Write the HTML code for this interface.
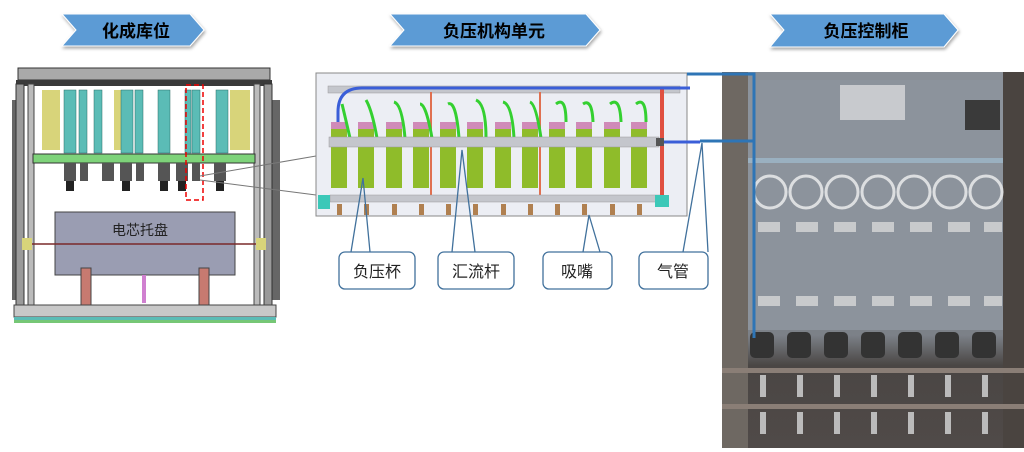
<!DOCTYPE html>
<html><head><meta charset="utf-8"><style>
html,body{margin:0;padding:0;background:#fff;}
svg{display:block;}
text{font-family:"Liberation Sans","Noto Sans CJK SC",sans-serif;}
</style></head><body>
<svg width="1024" height="452" viewBox="0 0 1024 452" xmlns="http://www.w3.org/2000/svg">
<defs>
<filter id="sh" x="-10%" y="-20%" width="130%" height="160%"><feDropShadow dx="1" dy="2" stdDeviation="1.5" flood-color="#000" flood-opacity="0.35"/></filter>
<linearGradient id="ph" x1="0" y1="0" x2="0" y2="1"><stop offset="0" stop-color="#8a9098"/><stop offset="0.7" stop-color="#7c8188"/><stop offset="0.78" stop-color="#4a4644"/><stop offset="1" stop-color="#504a48"/></linearGradient>
</defs>
<rect width="1024" height="452" fill="#fff"/>

<g filter="url(#sh)" stroke="#fff" stroke-width="1">
<polygon points="62,14 190,14 204,30 190,46 62,46 76,30" fill="#5b9bd5"/>
<polygon points="390,14 586,14 600,30 586,46 390,46 404,30" fill="#5b9bd5"/>
<polygon points="770,14 944,14 958,30 944,47 770,47 784,30" fill="#5b9bd5"/>
</g>
<text x="136" y="37" font-size="17" font-weight="bold" text-anchor="middle" fill="#000">化成库位</text>
<text x="494" y="37" font-size="17" font-weight="bold" text-anchor="middle" fill="#000">负压机构单元</text>
<text x="866" y="37" font-size="17" font-weight="bold" text-anchor="middle" fill="#000">负压控制柜</text>

<!-- left diagram -->
<g>
<rect x="12" y="100" width="12" height="200" fill="#666"/>
<rect x="268" y="100" width="12" height="200" fill="#666"/>
<rect x="18" y="68" width="252" height="12" fill="#a9a9a9" stroke="#333"/>
<rect x="16" y="80" width="256" height="6" fill="#3a3a3a"/>
<rect x="16" y="84" width="8" height="236" fill="#9a9a9a" stroke="#333"/>
<rect x="264" y="84" width="8" height="236" fill="#9a9a9a" stroke="#333"/>
<rect x="28" y="84" width="6" height="236" fill="#bbb" stroke="#444"/>
<rect x="254" y="84" width="6" height="236" fill="#bbb" stroke="#444"/>
<rect x="42" y="90" width="18" height="60" fill="#d8d47a"/>
<rect x="114" y="90" width="10" height="60" fill="#d8d47a"/>
<rect x="230" y="90" width="20" height="60" fill="#d8d47a"/>
<g fill="#5bbcb6" stroke="#2a6a66" stroke-width="0.5">
<rect x="64" y="90" width="12" height="63"/><rect x="79" y="90" width="8" height="63"/><rect x="94" y="90" width="8" height="63"/>
<rect x="121" y="90" width="12" height="63"/><rect x="135" y="90" width="8" height="63"/><rect x="158" y="90" width="12" height="63"/>
<rect x="185" y="90" width="6" height="63"/><rect x="192" y="90" width="8" height="63"/><rect x="216" y="90" width="12" height="63"/>
</g>
<rect x="33" y="154" width="222" height="9" fill="#7ed37a" stroke="#333"/>
<g fill="#555">
<rect x="64" y="163" width="12" height="18"/><rect x="80" y="163" width="8" height="18"/><rect x="102" y="163" width="12" height="18"/>
<rect x="120" y="163" width="12" height="18"/><rect x="136" y="163" width="8" height="18"/><rect x="158" y="163" width="12" height="18"/>
<rect x="176" y="163" width="12" height="18"/><rect x="192" y="163" width="8" height="18"/><rect x="214" y="163" width="12" height="18"/>
</g>
<g fill="#222">
<rect x="66" y="181" width="8" height="10"/><rect x="122" y="181" width="8" height="10"/><rect x="160" y="181" width="8" height="10"/><rect x="178" y="181" width="8" height="10"/><rect x="216" y="181" width="8" height="10"/>
</g>
<rect x="186" y="85" width="17" height="115" fill="none" stroke="#e00" stroke-width="1.5" stroke-dasharray="5,3"/>
<rect x="55" y="212" width="180" height="63" fill="#9a9db2" stroke="#444"/>
<text x="140" y="235" font-size="14" text-anchor="middle" fill="#222">电芯托盘</text>
<line x1="28" y1="244" x2="264" y2="244" stroke="#7a2a2a" stroke-width="1.5"/>
<rect x="22" y="238" width="10" height="12" fill="#d8d47a"/><rect x="256" y="238" width="10" height="12" fill="#d8d47a"/>
<rect x="81" y="268" width="10" height="52" fill="#c77a70" stroke="#444"/>
<rect x="199" y="268" width="10" height="52" fill="#c77a70" stroke="#444"/>
<rect x="142" y="275" width="4" height="28" fill="#d080d0"/>
<rect x="14" y="305" width="262" height="12" fill="#c8c8c8" stroke="#444"/>
<rect x="14" y="317" width="262" height="5" fill="#5bbcb6"/>
<rect x="14" y="320" width="262" height="3" fill="#76c776"/>
</g>

<line x1="200" y1="176" x2="316" y2="156" stroke="#777" stroke-width="1"/>
<line x1="200" y1="180" x2="316" y2="195" stroke="#777" stroke-width="1"/>

<!-- middle box -->
<rect x="316" y="73" width="371" height="143" fill="#eceef4" stroke="#888" stroke-width="1"/>
<rect x="328" y="86" width="352" height="7" fill="#c4c6cc" stroke="#999" stroke-width="0.5"/>
<rect x="660" y="88" width="4" height="110" fill="#e05040"/>
<rect x="430" y="92" width="2" height="104" fill="#e07050"/>
<rect x="539" y="92" width="2" height="104" fill="#e07050"/>
<path d="M338,140 L338,112 Q338,88 362,88 L690,88" fill="none" stroke="#3a5ed8" stroke-width="3"/>
<g fill="#8fbc2a">
<rect x="331" y="128" width="16" height="60"/><rect x="358" y="128" width="16" height="60"/><rect x="386" y="128" width="16" height="60"/><rect x="413" y="128" width="16" height="60"/>
<rect x="440" y="128" width="16" height="60"/><rect x="467" y="128" width="16" height="60"/><rect x="495" y="128" width="16" height="60"/><rect x="522" y="128" width="16" height="60"/>
<rect x="549" y="128" width="16" height="60"/><rect x="576" y="128" width="16" height="60"/><rect x="604" y="128" width="16" height="60"/><rect x="631" y="128" width="16" height="60"/>
</g>
<g fill="#d08ab8">
<rect x="331" y="122" width="16" height="7"/><rect x="358" y="122" width="16" height="7"/><rect x="386" y="122" width="16" height="7"/><rect x="413" y="122" width="16" height="7"/>
<rect x="440" y="122" width="16" height="7"/><rect x="467" y="122" width="16" height="7"/><rect x="495" y="122" width="16" height="7"/><rect x="522" y="122" width="16" height="7"/>
<rect x="549" y="122" width="16" height="7"/><rect x="576" y="122" width="16" height="7"/><rect x="604" y="122" width="16" height="7"/><rect x="631" y="122" width="16" height="7"/>
</g>
<g fill="none" stroke="#34d030" stroke-width="3">
<path d="M350,138 Q344,112 342,104"/><path d="M377,138 Q372,110 366,100"/><path d="M405,138 Q402,104 394,102"/><path d="M432,138 Q426,104 420,104"/>
<path d="M459,138 Q456,100 448,104"/><path d="M486,138 Q486,104 476,100"/><path d="M514,138 Q512,104 503,102"/><path d="M541,138 Q536,104 530,102"/>
<path d="M566,122 Q566,96 556,104"/><path d="M593,122 Q592,98 583,104"/><path d="M621,122 Q620,96 610,104"/><path d="M646,122 Q646,96 636,104"/>
</g>
<rect x="329" y="137" width="330" height="10" fill="#c4c6cc" stroke="#999" stroke-width="0.5"/>
<rect x="656" y="138" width="8" height="8" fill="#555"/>
<line x1="664" y1="142" x2="700" y2="142" stroke="#3a5ed8" stroke-width="3"/>
<rect x="330" y="195" width="330" height="7" fill="#c4c6cc" stroke="#999" stroke-width="0.5"/>
<rect x="318" y="195" width="12" height="14" fill="#3cc8b8"/><rect x="655" y="195" width="14" height="12" fill="#3cc8b8"/>
<g fill="#b08050">
<rect x="337" y="204" width="5" height="11"/><rect x="364" y="204" width="5" height="11"/><rect x="392" y="204" width="5" height="11"/><rect x="419" y="204" width="5" height="11"/>
<rect x="446" y="204" width="5" height="11"/><rect x="473" y="204" width="5" height="11"/><rect x="501" y="204" width="5" height="11"/><rect x="528" y="204" width="5" height="11"/>
<rect x="555" y="204" width="5" height="11"/><rect x="582" y="204" width="5" height="11"/><rect x="610" y="204" width="5" height="11"/><rect x="637" y="204" width="5" height="11"/>
</g>

<!-- right photo -->
<rect x="722" y="72" width="302" height="376" fill="url(#ph)"/>
<rect x="722" y="72" width="26" height="376" fill="#6e6862"/>
<rect x="1003" y="72" width="21" height="376" fill="#4a4440"/>
<rect x="748" y="80" width="255" height="250" fill="#8c939c"/>
<rect x="840" y="85" width="65" height="35" fill="#c8cace"/>
<rect x="965" y="100" width="35" height="30" fill="#3a3a3a"/>
<rect x="748" y="158" width="255" height="5" fill="#9ab0c0"/>
<g fill="none" stroke="#dcdee0" stroke-width="3">
<circle cx="770" cy="192" r="16"/><circle cx="806" cy="192" r="16"/><circle cx="842" cy="192" r="16"/><circle cx="878" cy="192" r="16"/><circle cx="914" cy="192" r="16"/><circle cx="950" cy="192" r="16"/><circle cx="986" cy="192" r="16"/>
</g>
<g fill="#c8cacc">
<rect x="758" y="222" width="22" height="10"/><rect x="796" y="222" width="22" height="10"/><rect x="834" y="222" width="22" height="10"/><rect x="872" y="222" width="22" height="10"/><rect x="910" y="222" width="22" height="10"/><rect x="948" y="222" width="22" height="10"/><rect x="984" y="222" width="18" height="10"/>
<rect x="758" y="296" width="22" height="10"/><rect x="796" y="296" width="22" height="10"/><rect x="834" y="296" width="22" height="10"/><rect x="872" y="296" width="22" height="10"/><rect x="910" y="296" width="22" height="10"/><rect x="948" y="296" width="22" height="10"/><rect x="984" y="296" width="18" height="10"/>
</g>
<g fill="#333">
<rect x="750" y="332" width="24" height="26" rx="5"/><rect x="787" y="332" width="24" height="26" rx="5"/><rect x="824" y="332" width="24" height="26" rx="5"/><rect x="861" y="332" width="24" height="26" rx="5"/><rect x="898" y="332" width="24" height="26" rx="5"/><rect x="935" y="332" width="24" height="26" rx="5"/><rect x="972" y="332" width="24" height="26" rx="5"/>
</g>
<rect x="722" y="368" width="302" height="5" fill="#8a7e76"/>
<rect x="722" y="404" width="302" height="5" fill="#8a7e76"/>
<g fill="#bbb">
<rect x="760" y="375" width="6" height="22"/><rect x="797" y="375" width="6" height="22"/><rect x="834" y="375" width="6" height="22"/><rect x="871" y="375" width="6" height="22"/><rect x="908" y="375" width="6" height="22"/><rect x="945" y="375" width="6" height="22"/><rect x="982" y="375" width="6" height="22"/>
<rect x="760" y="412" width="6" height="22"/><rect x="797" y="412" width="6" height="22"/><rect x="834" y="412" width="6" height="22"/><rect x="871" y="412" width="6" height="22"/><rect x="908" y="412" width="6" height="22"/><rect x="945" y="412" width="6" height="22"/><rect x="982" y="412" width="6" height="22"/>
</g>

<polyline points="687,74 754,74 754,338" fill="none" stroke="#2e75b6" stroke-width="3"/>
<line x1="700" y1="141" x2="754" y2="141" stroke="#2e75b6" stroke-width="3"/>

<g fill="none" stroke="#41719c" stroke-width="1.3">
<path d="M351,252 L363,178 L370,252"/>
<path d="M452,252 L462,150 L475,252"/>
<path d="M583,252 L589,215 L600,252"/>
<path d="M683,252 L702,143 L708,252"/>
</g>
<g fill="#fff" stroke="#41719c" stroke-width="1.3">
<rect x="339" y="252" width="76" height="37" rx="6"/>
<rect x="438" y="252" width="76" height="37" rx="6"/>
<rect x="543" y="252" width="69" height="37" rx="6"/>
<rect x="639" y="252" width="69" height="37" rx="6"/>
</g>
<g font-size="16" fill="#222" text-anchor="middle">
<text x="377" y="277">负压杯</text>
<text x="476" y="277">汇流杆</text>
<text x="577" y="277">吸嘴</text>
<text x="673" y="277">气管</text>
</g>
</svg>
</body></html>
